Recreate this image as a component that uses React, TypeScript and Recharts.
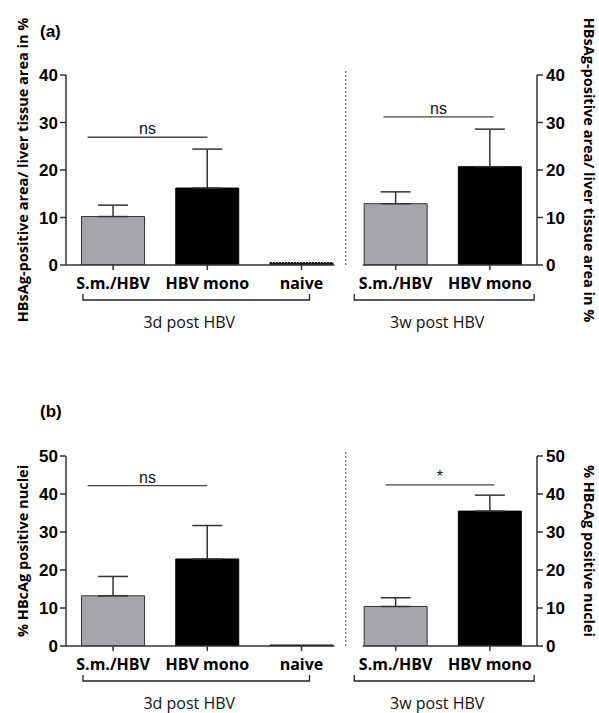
import React from 'react';
import { BarChart, Bar, XAxis, YAxis, Cell, ErrorBar, ReferenceLine } from 'recharts';

// ---------- data ----------
const categories = ['S.m./HBV', 'HBV mono', 'naive', 'S.m./HBV', 'HBV mono'];
const hbsagMean = [10.2, 16.2, 0.5, 12.9, 20.7];
const hbsagSem: (number | null)[] = [2.4, 8.2, null, 2.5, 7.9];
const hbcagMean = [13.2, 22.9, 0.25, 10.4, 35.5];
const hbcagSem: (number | null)[] = [5.1, 8.8, null, 2.3, 4.2];
const barFills = ['#a5a5aa', '#000000', '#1a1a1a', '#a5a5aa', '#000000'];
const groupLabels = ['3d post HBV', '3w post HBV'];
const groupSpans = [[0, 2], [3, 4]];
const yTicksA = [0, 10, 20, 30, 40];
const yTicksB = [0, 10, 20, 30, 40, 50];
const sigA = [
  { from: 0.23, to: 1.5, y: 26.9, label: 'ns' },
  { from: 3.37, to: 4.54, y: 31.2, label: 'ns' },
];
const sigB = [
  { from: 0.23, to: 1.5, y: 42.2, label: 'ns' },
  { from: 3.39, to: 4.55, y: 42.4, label: '*' },
];
const axisSegments = [[0, 2.85], [3.15, 5]];
const dividerX = 2.97;

// ---------- style constants ----------
const W = 599;
const PLOT_W = 471;
const BAND = PLOT_W / 5;
const bracketInset = [[-0.32, 0.085], [-0.44, 0.47]];
const AX = '#333';
const NUM_FONT = '"Liberation Sans", Arial, sans-serif';
const TXT_FONT = '"Open Sans", "Noto Sans", sans-serif';

const CatTick = (props: any) => {
  const { x, y, payload } = props;
  const i = payload?.index ?? props.index;
  const items: any[] = [];
  items.push(<line key="t" x1={x} x2={x} y1={y} y2={y + 5} stroke={AX} strokeWidth={1.5} />);
  items.push(
    <text key="l" x={x} y={y + 18} textAnchor="middle" dominantBaseline="central"
      fontFamily={TXT_FONT} fontWeight="bold" fontSize={16} fill="#000">
      {payload.value}
    </text>
  );
  groupSpans.forEach(([a, b], g) => {
    if (i === a) {
      const x1 = x + bracketInset[g][0] * BAND;
      const x2 = x + (b - a) * BAND + bracketInset[g][1] * BAND;
      const by = y + 35;
      items.push(
        <path key={'b' + g} d={`M${x1},${by - 6}L${x1},${by}L${x2},${by}L${x2},${by - 6}`}
          fill="none" stroke="#222" strokeWidth={1.3} />
      );
      items.push(
        <text key={'g' + g} x={(x1 + x2) / 2 - 7} y={y + 57} textAnchor="middle" dominantBaseline="central"
          fontFamily={TXT_FONT} fontSize={16} fill="#111">
          {groupLabels[g]}
        </text>
      );
    }
  });
  return <g>{items}</g>;
};

const YTitle = (props: any) => {
  const { viewBox, value, side } = props;
  const { x, y, height } = viewBox;
  const cx = side === 'left' ? x + 22 : x + 52;
  const cy = y + height / 2;
  return (
    <text x={cx} y={cy} transform={`rotate(${side === 'left' ? -90 : 90}, ${cx}, ${cy})`}
      textAnchor="middle" dominantBaseline="central" fontFamily={TXT_FONT} fontWeight="bold"
      fontSize={14.5} fill="#000">
      {value}
    </text>
  );
};

const numTick = { fontFamily: NUM_FONT, fontWeight: 'bold', fontSize: 17, fill: '#000' } as any;

function Panel(props: {
  means: number[]; sems: (number | null)[]; ticks: number[]; max: number; sig: any[];
  height: number; top: number; xAxisHeight: number; title: string;
}) {
  const { means, sems, ticks, max, sig, height, top, xAxisHeight, title } = props;
  const rows = categories.map((c, i) => ({
    name: c,
    pos: i + 0.5,
    v: means[i],
    err: sems[i] == null ? null : [0, sems[i] as number],
  }));
  return (
    <BarChart width={W} height={height} data={rows} margin={{ top, right: 0, bottom: 0, left: 0 }}
      barCategoryGap="16.5%">
      <XAxis xAxisId="cat" dataKey="name" type="category" interval={0} axisLine={false}
        tickLine={false} tickSize={0} tickMargin={0} height={xAxisHeight} tick={<CatTick />} />
      <XAxis xAxisId="num" dataKey="pos" type="number" domain={[0, 5]} hide allowDataOverflow />
      <YAxis yAxisId="left" orientation="left" width={66} domain={[0, max]} ticks={ticks}
        allowDataOverflow stroke={AX} strokeWidth={1.5} tickSize={6} tickMargin={2}
        tick={numTick} label={<YTitle value={title} side="left" />} />
      <YAxis yAxisId="right" orientation="right" width={62} domain={[0, max]} ticks={ticks}
        allowDataOverflow stroke={AX} strokeWidth={1.5} tickSize={6} tickMargin={3}
        tick={numTick} label={<YTitle value={title} side="right" />} />
      <Bar dataKey="v" xAxisId="cat" yAxisId="left" isAnimationActive={false} strokeWidth={1}>
        {rows.map((r, i) => (
          <Cell key={i} fill={barFills[i]} stroke={i === 0 || i === 3 ? '#333' : '#000'}
            strokeDasharray={i === 2 && max === 40 ? '2 1' : undefined} />
        ))}
        <ErrorBar dataKey="err" direction="y" width={15} stroke="#333" strokeWidth={1.5} />
      </Bar>
      {axisSegments.map((s, k) => (
        <ReferenceLine key={'ax' + k} xAxisId="num" yAxisId="left" ifOverflow="visible"
          segment={[{ x: s[0], y: 0 }, { x: s[1], y: 0 }]} stroke={AX} strokeWidth={1.5} />
      ))}
      <ReferenceLine xAxisId="num" yAxisId="left" ifOverflow="visible"
        segment={[{ x: dividerX, y: 0 }, { x: dividerX, y: max * 1.03 }]}
        stroke="#444" strokeWidth={1} strokeDasharray="2 2" />
      {sig.map((s, k) => (
        <ReferenceLine key={'sig' + k} xAxisId="num" yAxisId="left" ifOverflow="visible"
          segment={[{ x: s.from, y: s.y }, { x: s.to, y: s.y }]} stroke="#444" strokeWidth={1.3}
          label={{ value: s.label, position: 'top', offset: 3, fill: '#111', fontSize: 16,
            fontFamily: NUM_FONT }} />
      ))}
    </BarChart>
  );
}

export default function App() {
  return (
    <div style={{ position: 'absolute', left: 0, top: 0, width: 599, height: 713, background: '#fff' }}>
      <div style={{ position: 'absolute', left: 40, top: 22, fontFamily: NUM_FONT, fontWeight: 'bold',
        fontSize: 17 }}>(a)</div>
      <div style={{ position: 'absolute', left: 40, top: 402, fontFamily: NUM_FONT, fontWeight: 'bold',
        fontSize: 17 }}>(b)</div>
      <div style={{ position: 'absolute', left: 0, top: 0 }}>
        <Panel means={hbsagMean} sems={hbsagSem} ticks={yTicksA} max={40} sig={sigA}
          height={360} top={75} xAxisHeight={95}
          title="HBsAg-positive area/ liver tissue area in %" />
      </div>
      <div style={{ position: 'absolute', left: 0, top: 360 }}>
        <Panel means={hbcagMean} sems={hbcagSem} ticks={yTicksB} max={50} sig={sigB}
          height={353} top={96} xAxisHeight={67}
          title="% HBcAg positive nuclei" />
      </div>
    </div>
  );
}
